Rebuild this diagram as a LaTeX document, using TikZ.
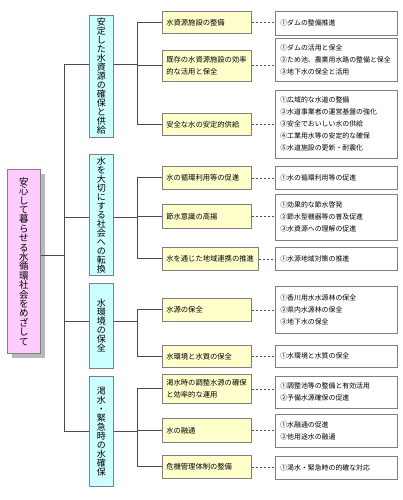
\documentclass[tikz,border=0pt]{standalone}
\usepackage{fontspec}
\setmainfont{Noto Sans CJK JP}
\usepackage{tikz}
\usetikzlibrary{shadows}
\definecolor{rootpink}{HTML}{FFCCFF}
\definecolor{catcyan}{HTML}{CCFFFF}
\definecolor{subyellow}{HTML}{FFFFCC}
\definecolor{boxgray}{HTML}{7F7F7F}
\definecolor{linegray}{HTML}{4A4A4A}
\tikzset{
 rootbox/.style={draw=boxgray, line width=.6pt, fill=rootpink, anchor=north west, minimum width=33pt, minimum height=184pt, inner sep=0pt, align=center, font=\fontsize{9.5}{9.4}\selectfont, drop shadow={shadow xshift=5pt, shadow yshift=-5pt, fill=black!28, opacity=1}},
 catbox/.style={draw=boxgray, line width=.6pt, fill=catcyan, anchor=north west, minimum width=24pt, inner sep=0pt, align=center, font=\fontsize{9}{9}\selectfont},
 subbox/.style={draw=boxgray, line width=.6pt, fill=subyellow, anchor=north west, inner xsep=4pt, inner ysep=0pt, text width=81pt, align=left, font=\fontsize{7.3}{11.5}\selectfont},
 itembox/.style={draw=boxgray, line width=.6pt, fill=white, anchor=north west, inner xsep=5pt, inner ysep=0pt, text width=112pt, align=left, font=\fontsize{6.9}{12}\selectfont},
 link/.style={draw=linegray, line width=.8pt},
 dotlink/.style={draw=linegray, line width=.6pt, dash pattern=on 2pt off 2pt}
}

\begin{document}
\begin{tikzpicture}[x=1pt,y=-1pt]
\useasboundingbox (0,0) rectangle (403,500);

% root
\node[rootbox] (root) at (7,169) {安\\心\\し\\て\\暮\\ら\\せ\\る\\水\\循\\環\\社\\会\\を\\め\\ざ\\し\\て};

% categories
\node[catbox, minimum height=122pt] (c1) at (89,15) {安\\定\\し\\た\\水\\資\\源\\の\\確\\保\\と\\供\\給};
\node[catbox, minimum height=121pt] (c2) at (89,154) {水\\を\\大\\切\\に\\す\\る\\社\\会\\へ\\の\\転\\換};
\node[catbox, minimum height=85pt] (c3) at (89,283) {水\\環\\境\\の\\保\\全};
\node[catbox, minimum height=110pt] (c4) at (89,376) {渇\\水\\・\\緊\\急\\時\\の\\水\\確\\保};

% measures
\node[subbox, minimum height=22pt] (s1) at (162,11) {水資源施設の整備};
\node[subbox, minimum height=31pt] (s2) at (162,50) {既存の水資源施設の効率\\的な活用と保全};
\node[subbox, minimum height=22pt] (s3) at (162,113) {安全な水の安定的供給};
\node[subbox, minimum height=23pt] (s4) at (162,166) {水の循環利用等の促進};
\node[subbox, minimum height=24pt] (s5) at (162,204) {節水意識の高揚};
\node[subbox, minimum height=23pt, text width=88pt] (s6) at (162,247) {水を通じた地域連携の推進};
\node[subbox, minimum height=23pt] (s7) at (162,298) {水源の保全};
\node[subbox, minimum height=22pt] (s8) at (162,345) {水環境と水質の保全};
\node[subbox, minimum height=29pt] (s9) at (162,374) {渇水時の調整水源の確保\\と効率的な運用};
\node[subbox, minimum height=24pt] (s10) at (162,418) {水の融通};
\node[subbox, minimum height=23pt] (s11) at (162,455) {危機管理体制の整備};

% actions
\node[itembox, minimum height=24pt] (r1) at (275,11) {①ダムの整備推進};
\node[itembox, minimum height=43pt] (r2) at (275,38) {①ダムの活用と保全\\②ため池、農業用水路の整備と保全\\③地下水の保全と活用};
\node[itembox, minimum height=68pt] (r3) at (275,90) {①広域的な水道の整備\\②水道事業者の運営基盤の強化\\③安全でおいしい水の供給\\④工業用水等の安定的な確保\\⑤水道施設の更新・耐震化};
\node[itembox, minimum height=23pt] (r4) at (275,166) {①水の循環利用等の促進};
\node[itembox, minimum height=46pt] (r5) at (275,194) {①効果的な節水啓発\\②節水型機器等の普及促進\\③水資源への理解の促進};
\node[itembox, minimum height=23pt] (r6) at (275,247) {①水源地域対策の推進};
\node[itembox, minimum height=47pt] (r7) at (275,286) {①香川用水水源林の保全\\②県内水源林の保全\\③地下水の保全};
\node[itembox, minimum height=22pt] (r8) at (275,345) {①水環境と水質の保全};
\node[itembox, minimum height=32pt] (r9) at (275,376) {①調整池等の整備と有効活用\\②予備水源確保の促進};
\node[itembox, minimum height=33pt] (r10) at (275,414) {①水融通の促進\\②他用途水の融通};
\node[itembox, minimum height=23pt] (r11) at (275,456) {①渇水・緊急時の的確な対応};

% trunk and branch points
\coordinate (rt) at (64,255);
\coordinate (t1) at (64,64);
\coordinate (t2) at (64,217);
\coordinate (t3) at (64,321);
\coordinate (t4) at (64,431);
\foreach \k in {1,...,4} \coordinate (b\k) at (137,0 |- t\k);

\draw[link] (root.east |- rt) -- (rt);
\draw[link] (t1) -- (t4);
\foreach \k/\a/\z in {1/1/3,2/4/6,3/7/8,4/9/11} {
 \draw[link] (t\k) -- (c\k.west |- t\k);
 \draw[link] (c\k.east |- t\k) -- (b\k);
 \draw[link] (b\k |- s\a.west) -- (b\k |- s\z.west);
}
\foreach \k/\s in {1/1,1/2,1/3,2/4,2/5,2/6,3/7,3/8,4/9,4/10,4/11} {
 \draw[link] (b\k |- s\s.west) -- (s\s.west);
 \draw[dotlink] (s\s.east) -- (s\s.east -| r\s.west);
}
\end{tikzpicture}
\end{document}
